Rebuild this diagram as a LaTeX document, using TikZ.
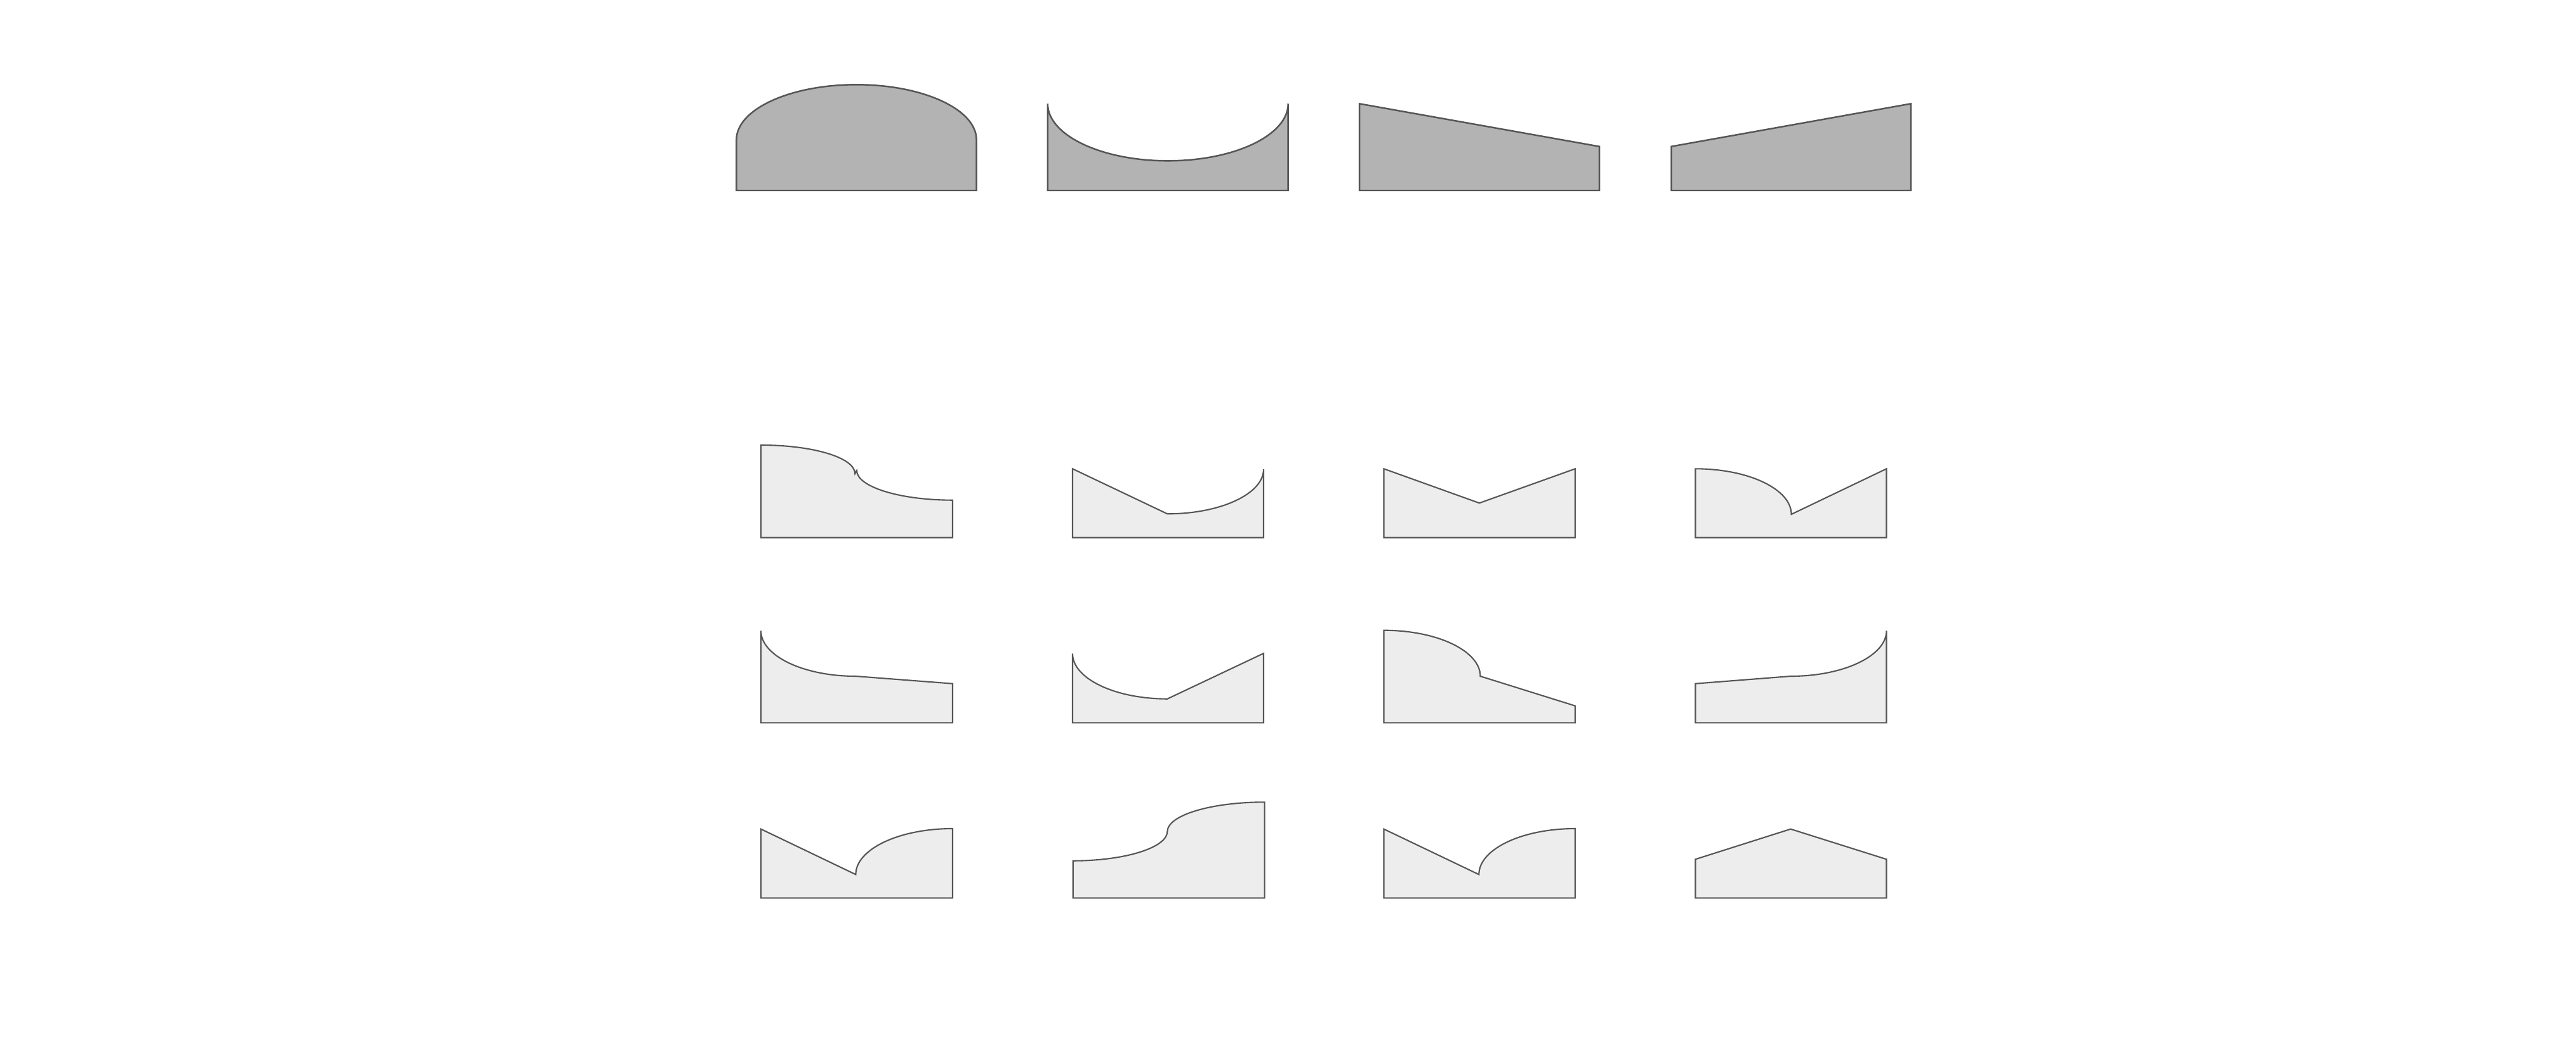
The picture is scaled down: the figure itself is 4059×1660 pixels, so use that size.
\documentclass[tikz,border=0pt]{standalone}
\usepackage{tikz}
\definecolor{darkfill}{HTML}{B3B3B3}
\definecolor{lightfill}{HTML}{EDEDED}
\definecolor{edge}{HTML}{555555}
\begin{document}
\begin{tikzpicture}[x=0.01cm,y=-0.01cm,
  darkshape/.style={fill=darkfill,draw=edge,line width=0.7pt},
  lightshape/.style={fill=lightfill,draw=edge,line width=0.6pt}]
\useasboundingbox (0,0) rectangle (4059,1660);
% ---- top row (dark) ----
\draw[darkshape] (1160.4,300) -- (1160.4,220)
  .. controls (1160.4,172.1) and (1245.1,133.3) .. (1349.5,133.3)
  .. controls (1453.9,133.3) and (1538.6,172.1) .. (1538.6,220)
  -- (1538.6,300) -- cycle;
\draw[darkshape] (1650.8,300) -- (1650.8,163.3)
  .. controls (1650.8,213.0) and (1735.6,253.3) .. (1840.2,253.3)
  .. controls (1944.8,253.3) and (2029.7,213.0) .. (2029.7,163.3)
  -- (2029.7,300) -- cycle;
\draw[darkshape] (2142,300) -- (2142,163.3) -- (2520,230.7) -- (2520,300) -- cycle;
\draw[darkshape] (2633.5,300) -- (2633.5,230.7) -- (3011,163.3) -- (3011,300) -- cycle;
% ---- row 2 ----
\draw[lightshape] (1199,846.7) -- (1199,701)
  .. controls (1280.9,701) and (1347.2,720.7) .. (1347.2,746)
  -- (1350,741)
  .. controls (1350,766.6) and (1417.6,787.7) .. (1501,787.7)
  -- (1501,846.7) -- cycle;
\draw[lightshape] (1690,846.7) -- (1690,738.3) -- (1839.4,809.3)
  .. controls (1923.1,809.3) and (1991,777.8) .. (1991,739)
  -- (1991,846.7) -- cycle;
\draw[lightshape] (2180.5,846.7) -- (2180.5,738.3) -- (2331,792.3) -- (2482,738.3) -- (2482,846.7) -- cycle;
\draw[lightshape] (2671.5,846.7) -- (2671.5,738.3)
  .. controls (2755,738.3) and (2822.6,770.4) .. (2822.6,810)
  -- (2972.5,738.3) -- (2972.5,846.7) -- cycle;
% ---- row 3 ----
\draw[lightshape] (1199,1138.3) -- (1199,993.3)
  .. controls (1199,1032.9) and (1265.9,1065) .. (1348.4,1065)
  -- (1501,1076.7) -- (1501,1138.3) -- cycle;
\draw[lightshape] (1690,1138.3) -- (1690,1029.3)
  .. controls (1690,1068.7) and (1756.9,1100.7) .. (1839.4,1100.7)
  -- (1991,1029) -- (1991,1138.3) -- cycle;
\draw[lightshape] (2180.5,1138.3) -- (2180.5,992.7)
  .. controls (2264.4,992.7) and (2332.5,1025.1) .. (2332.5,1065)
  -- (2482,1111.7) -- (2482,1138.3) -- cycle;
\draw[lightshape] (2671.5,1138.3) -- (2671.5,1076.7) -- (2821.5,1065)
  .. controls (2904.9,1065) and (2972.5,1032.9) .. (2972.5,993.3)
  -- (2972.5,1138.3) -- cycle;
% ---- row 4 ----
\draw[lightshape] (1199,1414.3) -- (1199,1305.7) -- (1348.4,1377.3)
  .. controls (1348.4,1337.4) and (1416.7,1305) .. (1501,1305)
  -- (1501,1414.3) -- cycle;
\draw[lightshape] (1690.7,1414.3) -- (1690.7,1355.7)
  .. controls (1772.8,1355.7) and (1839.4,1334.9) .. (1839.4,1309.3)
  .. controls (1840,1283.9) and (1908.3,1263.3) .. (1992.6,1263.3)
  -- (1992.6,1414.3) -- cycle;
\draw[lightshape] (2180.5,1414.3) -- (2180.5,1305.7) -- (2330.3,1377.3)
  .. controls (2330.3,1337.4) and (2398.2,1305) .. (2482,1305)
  -- (2482,1414.3) -- cycle;
\draw[lightshape] (2671.5,1414.3) -- (2671.5,1353.3) -- (2821.5,1305.7) -- (2972.5,1353.3) -- (2972.5,1414.3) -- cycle;
\end{tikzpicture}
\end{document}
